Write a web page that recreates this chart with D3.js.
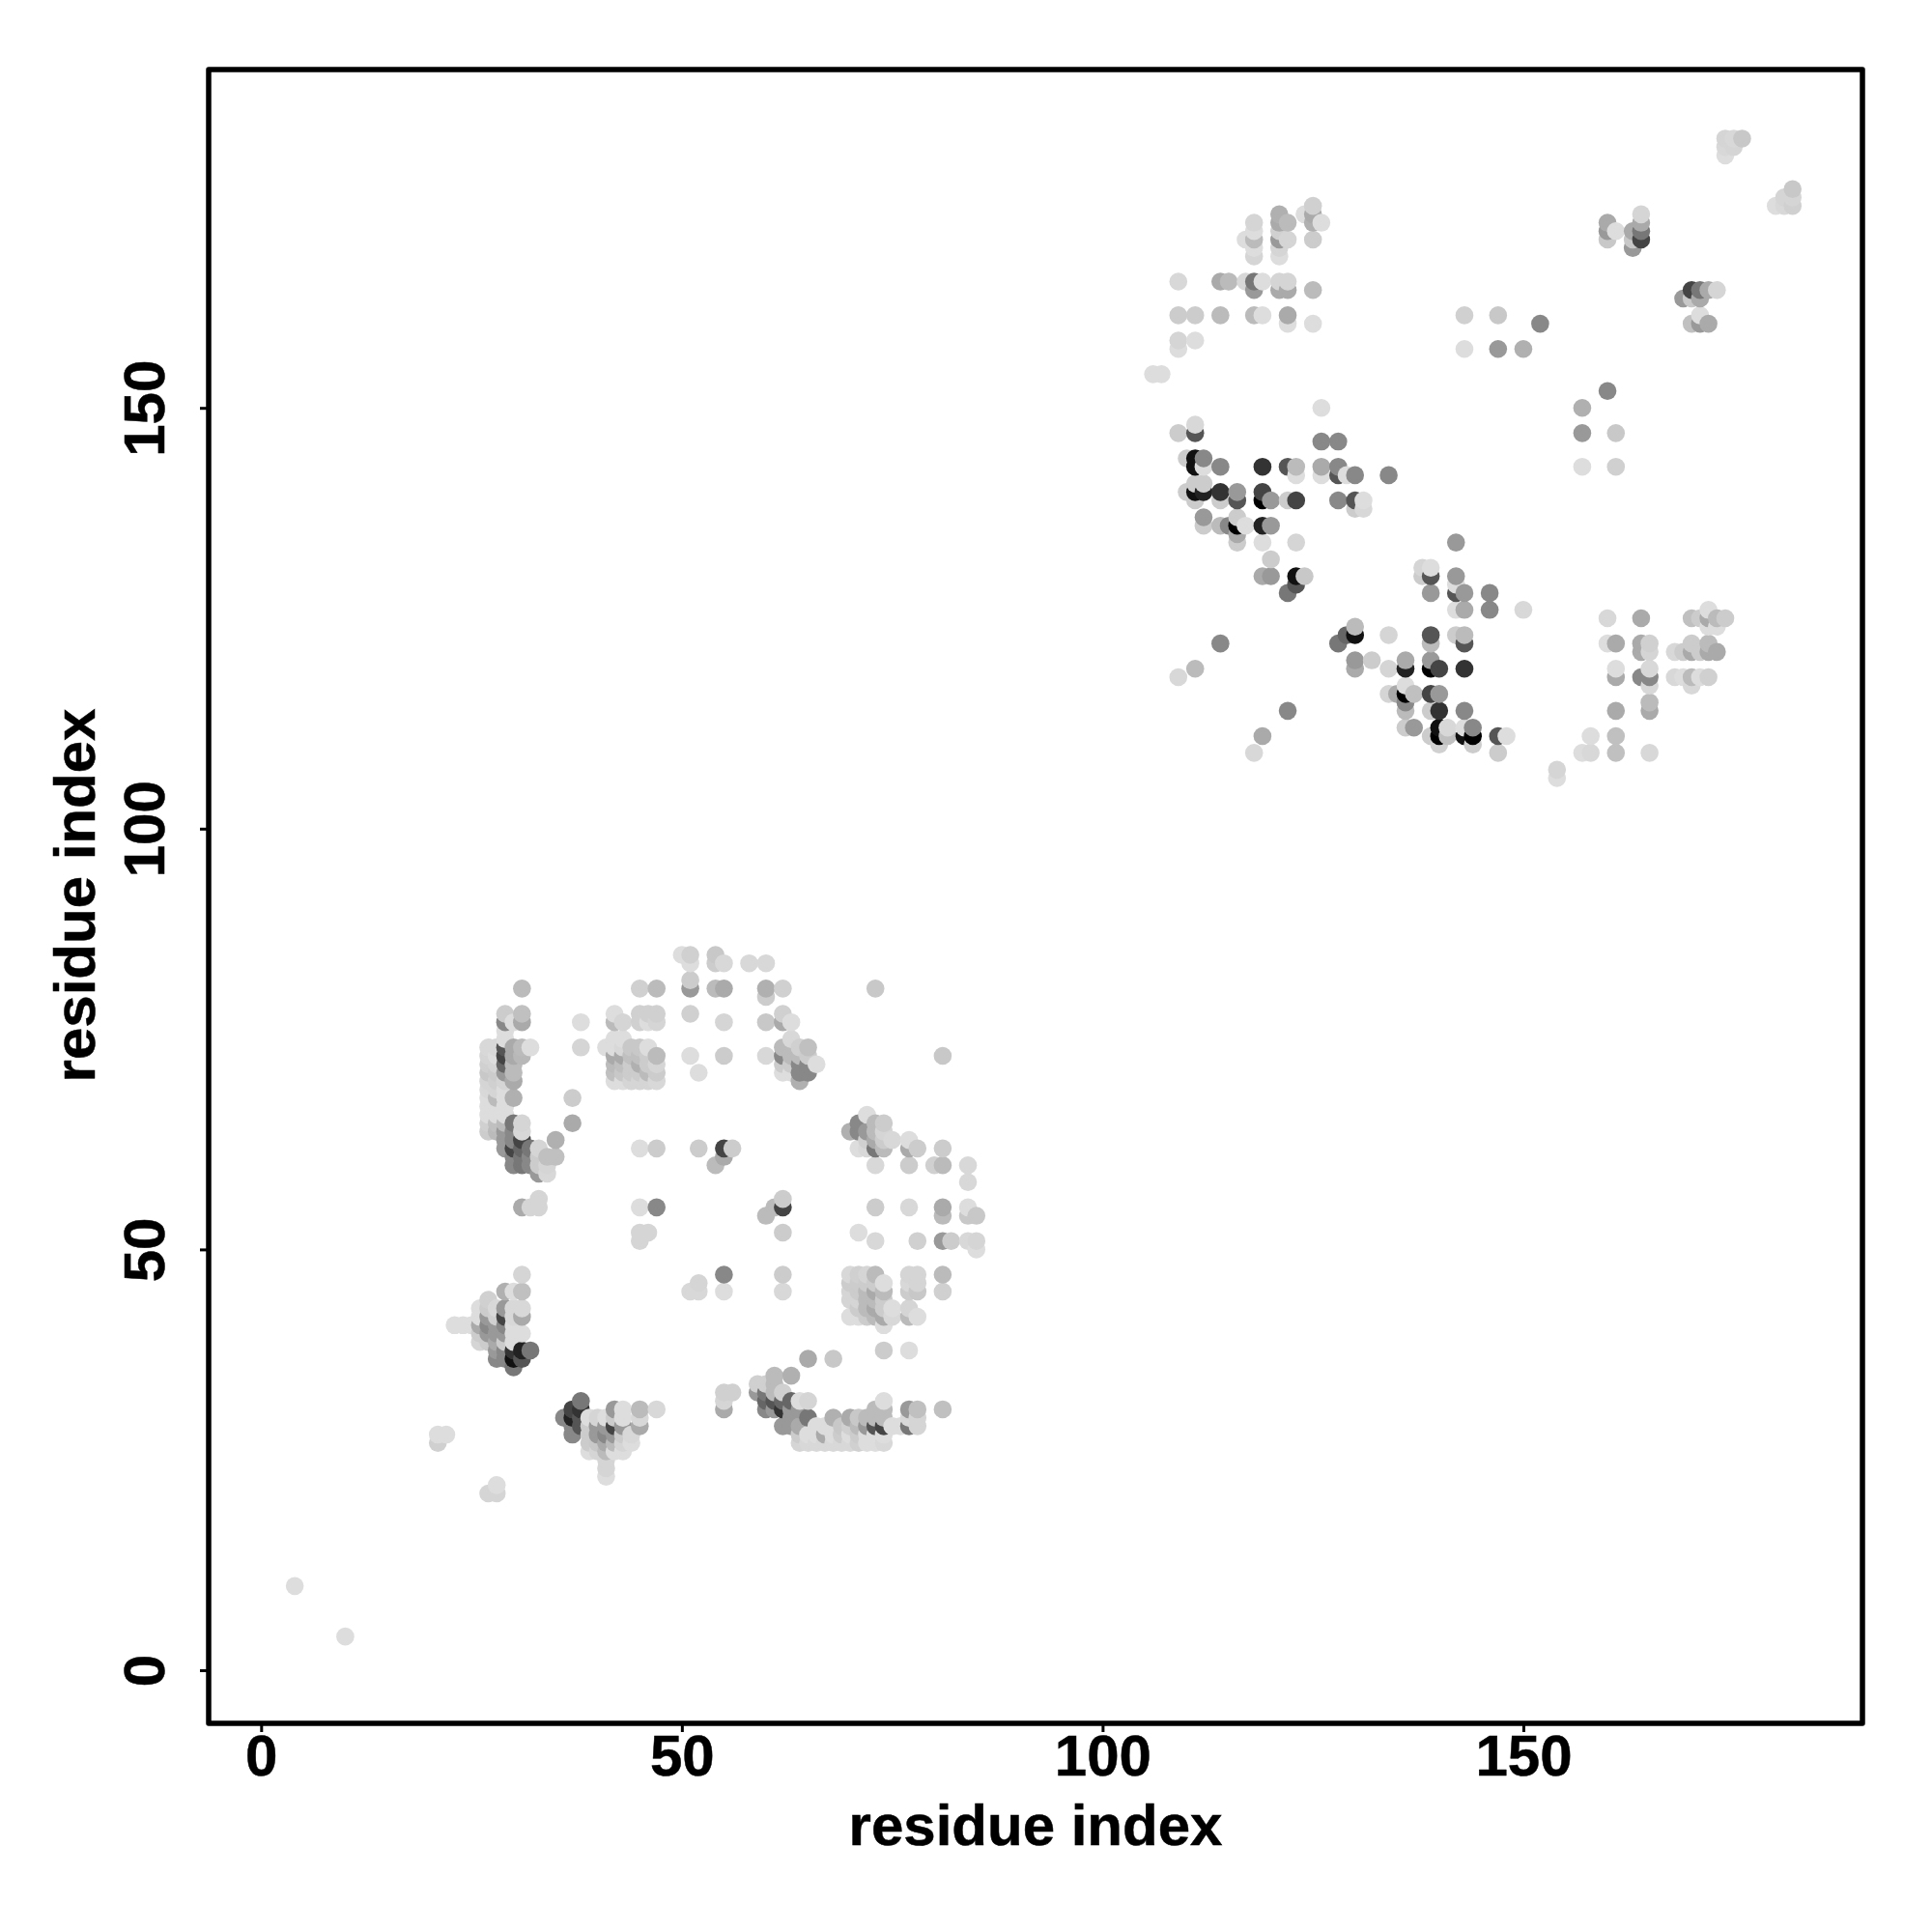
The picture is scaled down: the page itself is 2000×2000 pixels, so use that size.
<!DOCTYPE html>
<html><head><meta charset="utf-8">
<script src="https://cdn.jsdelivr.net/npm/d3@7"></script>
<style>html,body{margin:0;background:#fff}svg{display:block}text{font-family:"Liberation Sans",Arial,sans-serif;font-weight:700;fill:#000;stroke:#000;stroke-width:.5px}</style>
</head><body><div id="c"></div>
<script>
const tickLabels=[0,50,100,150];
const axisTitle="residue index";
// each contact: residue i, residue j, grey level (hex)
const isolated=[[4,10,"dd"],[10,4,"dd"],[21,28,"dd"],[22,28,"dd"],[21,27,"d0"],[28,22,"dd"],[27,21,"d5"],[28,21,"d5"]];
const helixA=[[31,81,"bb"],[29,78,"cc"],[31,78,"c0"],[29,77,"88"],[31,77,"aa"],[30,77,"dd"],[29,76,"dd"],[29,75,"dd"],
[27,74,"d8"],[28,74,"d8"],[29,74,"55"],[30,74,"aa"],[31,74,"bb"],[32,74,"dd"],
[27,73,"d5"],[28,73,"dd"],[29,73,"44"],[30,73,"aa"],[31,73,"b8"],
[27,72,"d0"],[28,72,"d5"],[29,72,"66"],[30,72,"bb"],
[27,71,"c8"],[28,71,"cc"],[29,71,"99"],[30,71,"bb"],
[27,70,"d5"],[28,70,"d0"],[29,70,"d5"],[30,70,"aa"],
[27,69,"d8"],[28,69,"d5"],[29,69,"dd"],
[27,68,"dd"],[28,68,"bb"],[29,68,"dd"],[30,68,"b0"],
[27,67,"dd"],[28,67,"dd"],[29,67,"dd"],
[27,66,"dd"],[28,66,"dd"],[29,66,"dd"],
[27,65,"d0"],[28,65,"c0"],[29,65,"bb"],[30,65,"77"],[31,65,"d5"],
[27,64,"cc"],[28,64,"bb"],[29,64,"99"],[30,64,"88"],[31,64,"d8"],
[29,63,"99"],[30,63,"88"],[31,63,"44"],[35,63,"b0"],
[29,62,"99"],[30,62,"44"],[31,62,"66"],[32,62,"77"],[33,62,"d5"],
[30,61,"88"],[31,61,"77"],[32,61,"88"],[33,61,"cc"],[34,61,"c0"],[35,61,"c0"],
[30,60,"88"],[31,60,"77"],[32,60,"88"],[33,60,"cc"],[34,60,"d5"],
[33,59,"99"],[34,59,"d8"],[37,68,"cc"],[37,65,"aa"],
[31,55,"aa"],[32,55,"d5"],[33,55,"d5"],[33,56,"d5"]];
const sheetTop=[[45,81,"d0"],[47,81,"bb"],[50,85,"dd"],[51,85,"d0"],[51,84,"dd"],[51,82,"cc"],[51,81,"99"],[54,85,"c8"],[54,84,"cc"],[54,81,"bb"],
[51,78,"d0"],[38,77,"dd"],[38,74,"d5"],[42,78,"dd"],[42,77,"bb"],[43,77,"d5"],[45,78,"d0"],[46,78,"d0"],[47,78,"d0"],[45,77,"d0"],[46,77,"dd"],[47,77,"d5"],
[41,74,"dd"],[42,75,"dd"],[43,75,"dd"],
[42,74,"dd"],[43,74,"d8"],[44,74,"c8"],[45,74,"c8"],[46,74,"dd"],
[42,73,"aa"],[43,73,"aa"],[44,73,"c0"],[45,73,"c0"],[46,73,"cc"],[47,73,"bb"],
[42,72,"bb"],[43,72,"c0"],[44,72,"cc"],[45,72,"b0"],[46,72,"cc"],[47,72,"d5"],
[42,71,"c0"],[43,71,"c8"],[44,71,"cc"],[45,71,"cc"],[46,71,"bb"],[47,71,"cc"],
[42,70,"dd"],[43,70,"dd"],[44,70,"d5"],[45,70,"d5"],[46,70,"d5"],[47,70,"d8"],
[51,73,"dd"],[52,71,"dd"],[45,62,"dd"],[47,62,"cc"],[52,62,"cc"],[45,55,"dd"],[47,55,"88"],
[55,84,"d8"],[58,84,"d8"],[60,84,"d8"],[55,81,"aa"],[60,81,"b0"],[60,80,"cc"],[62,81,"d0"],[73,81,"c8"],
[55,77,"d5"],[60,77,"c8"],[62,78,"d0"],[62,77,"aa"],[63,77,"dd"],[55,73,"cc"],[60,73,"d8"],[81,73,"c8"],
[63,75,"d8"],[62,74,"bb"],[64,74,"d0"],[65,74,"c0"],[62,73,"88"],[63,73,"bb"],[64,73,"bb"],[65,73,"cc"],
[62,72,"cc"],[63,72,"cc"],[64,72,"88"],[65,72,"88"],[66,72,"dd"],[62,71,"dd"],[63,71,"dd"],[64,71,"88"],[65,71,"88"],[64,70,"b0"]];
const sheetRight=[[70,64,"b0"],[71,65,"88"],[72,66,"dd"],[73,65,"bb"],[74,65,"cc"],[71,64,"88"],[72,64,"99"],[73,64,"bb"],[74,64,"d5"],[75,63,"d8"],
[71,62,"dd"],[72,63,"d0"],[73,63,"aa"],[74,63,"cc"],[72,62,"d8"],[73,62,"77"],[74,62,"bb"],[77,63,"dd"],[77,62,"aa"],[78,62,"cc"],[81,62,"cc"],
[73,60,"d8"],[77,60,"cc"],[80,60,"d0"],[81,60,"bb"],[84,60,"d8"],[84,58,"d8"],[55,62,"44"],[56,62,"cc"],[55,61,"aa"],[54,60,"bb"],
[62,56,"cc"],[62,55,"44"],[61,55,"bb"],[60,54,"bb"],[73,55,"cc"],[77,55,"d8"],[81,55,"aa"],[81,54,"bb"],[84,55,"dd"],[84,54,"c8"],[85,54,"c8"],
[62,52,"cc"],[71,52,"dd"],[73,51,"d8"],[78,51,"d0"],[81,51,"99"],[82,51,"cc"],[84,51,"d8"],[85,51,"d5"],[85,50,"dd"],
[55,47,"88"],[62,47,"cc"],[55,45,"dd"],[62,45,"d8"],[81,47,"bb"],[81,45,"d0"],
[70,47,"d8"],[71,47,"d0"],[72,47,"d5"],[73,47,"bb"],[70,46,"cc"],[71,46,"cc"],[72,46,"cc"],[73,46,"cc"],[74,46,"dd"],
[70,45,"d5"],[71,45,"cc"],[72,45,"bb"],[73,45,"aa"],[74,45,"bb"],[70,44,"d5"],[71,44,"d5"],[72,44,"bb"],[73,44,"bb"],[74,44,"cc"],
[71,43,"cc"],[72,43,"bb"],[73,43,"aa"],[74,43,"cc"],[75,43,"dd"],[70,42,"dd"],[71,42,"dd"],[72,42,"cc"],[73,42,"bb"],[74,42,"aa"],[75,42,"d8"],[74,41,"dd"],
[77,47,"d5"],[78,47,"d5"],[77,46,"d8"],[78,46,"d5"],[77,45,"cc"],[78,45,"c8"],[77,43,"d5"],[77,42,"bb"],[78,42,"dd"],[74,38,"cc"],[77,38,"dd"]];
const sheetBottom=[[65,37,"aa"],[68,37,"c8"],[63,35,"b0"],[61,35,"bb"],[59,34,"d0"],[60,34,"d0"],[61,34,"bb"],[62,33,"d0"],[55,33,"d0"],[56,33,"d0"],[55,32,"d5"],[55,31,"aa"],
[59,33,"99"],[60,33,"77"],[61,33,"bb"],[63,32,"66"],[64,32,"dd"],[65,32,"d5"],[60,32,"66"],[61,32,"55"],[62,32,"66"],
[60,31,"88"],[61,31,"99"],[62,31,"33"],[63,31,"99"],[64,31,"99"],[65,30,"77"],[62,29,"99"],[63,30,"99"],[63,29,"99"],[64,29,"aa"],
[64,27,"d5"],[65,27,"d8"],[66,27,"d8"],[67,27,"d8"],[68,27,"d8"],[69,27,"d8"],[70,27,"d8"],[71,27,"d0"],[72,27,"dd"],[73,27,"dd"],[74,27,"d8"],
[64,28,"cc"],[65,28,"dd"],[66,28,"dd"],[67,28,"aa"],[68,28,"dd"],[69,28,"cc"],[70,28,"dd"],[71,28,"cc"],[72,28,"dd"],[73,28,"dd"],[74,28,"dd"],
[66,29,"dd"],[67,29,"dd"],[69,29,"c8"],[70,29,"d0"],[71,29,"bb"],[72,29,"99"],[73,29,"55"],[74,29,"44"],[75,29,"dd"],[76,29,"dd"],[77,29,"77"],[78,29,"d5"],
[68,30,"b0"],[70,30,"aa"],[71,30,"c8"],[72,30,"bb"],[73,30,"bb"],[74,30,"bb"],[77,30,"d8"],[78,30,"d5"],
[73,31,"bb"],[74,31,"bb"],[77,31,"99"],[78,31,"c0"],[81,31,"c0"],[74,32,"dd"]];
const helixB=[[45,52,"d5"],[46,52,"d5"],[45,51,"d5"],[31,47,"d5"],[29,45,"b0"],[30,45,"dd"],[31,45,"c0"],[27,44,"d0"],
[26,43,"dd"],[27,43,"cc"],[28,43,"d8"],[29,43,"99"],[30,43,"d8"],[31,43,"d8"],
[26,42,"dd"],[27,42,"99"],[28,42,"d0"],[29,42,"44"],[30,42,"d8"],[31,42,"aa"],
[23,41,"dd"],[24,41,"dd"],[25,41,"dd"],[26,41,"aa"],[27,41,"88"],[28,41,"99"],[29,41,"88"],[30,41,"dd"],
[26,40,"cc"],[27,40,"99"],[28,40,"99"],[29,40,"99"],[30,40,"dd"],[31,40,"dd"],
[26,39,"d5"],[27,39,"cc"],[28,39,"aa"],[29,39,"cc"],[30,39,"dd"],
[28,38,"99"],[29,38,"88"],[30,38,"33"],[31,38,"22"],[32,38,"77"],
[28,37,"88"],[29,37,"88"],[30,37,"11"],[31,37,"55"],[30,36,"77"],
[52,46,"d5"],[51,45,"d8"],[52,45,"d8"],
[38,32,"77"],[37,31,"44"],[38,31,"33"],[36,30,"88"],[37,30,"22"],[38,30,"55"],[37,29,"88"],[38,29,"55"],[37,28,"88"],
[39,30,"dd"],[40,30,"d5"],[41,30,"dd"],[42,31,"99"],[43,31,"dd"],[45,31,"bb"],[47,31,"d8"],[42,30,"cc"],[43,30,"dd"],[45,30,"d8"],
[42,29,"44"],[39,29,"cc"],[40,29,"99"],[41,29,"99"],[43,29,"99"],[45,29,"aa"],
[39,28,"cc"],[40,28,"99"],[41,28,"88"],[42,28,"99"],[43,28,"cc"],[44,28,"d8"],
[39,27,"cc"],[40,27,"c8"],[41,27,"aa"],[42,27,"bb"],[43,27,"d5"],[44,27,"dd"],
[39,26,"dd"],[40,26,"d5"],[41,26,"bb"],[42,26,"dd"],[43,26,"dd"],[41,25,"d5"],[41,24,"d5"],[41,23,"dd"]];
const domainTop=[[125,174,"d0"],[124,173,"dd"],[125,173,"aa"],[125,172,"b0"],[126,172,"dd"],[125,170,"cc"],
[121,173,"b0"],[121,172,"aa"],[122,172,"bb"],[121,171,"d0"],[121,170,"99"],[122,170,"d5"],[121,169,"d5"],[121,168,"dd"],
[118,172,"d5"],[118,171,"dd"],[117,170,"dd"],[118,170,"bb"],[118,169,"dd"],[118,168,"d5"],
[109,165,"d8"],[114,165,"aa"],[115,165,"bb"],[117,165,"d8"],[118,165,"77"],[119,165,"dd"],[121,165,"d5"],[122,165,"d5"],[118,164,"99"],[121,164,"aa"],[122,164,"aa"],[125,164,"bb"],
[109,161,"cc"],[111,161,"cc"],[114,161,"bb"],[118,161,"bb"],[119,161,"dd"],[122,161,"aa"],[122,160,"dd"],[125,160,"dd"],
[109,158,"d5"],[111,158,"dd"],[109,157,"dd"],[106,154,"dd"],[107,154,"dd"]];
const domainMid=[[126,150,"dd"],[109,147,"cc"],[111,148,"d8"],[111,147,"55"],[126,146,"88"],[128,146,"88"],
[110,144,"cc"],[111,144,"11"],[112,144,"88"],[111,143,"11"],[112,143,"dd"],[114,143,"88"],[119,143,"33"],[122,143,"55"],[123,143,"bb"],[126,143,"aa"],[128,143,"88"],
[123,142,"dd"],[126,142,"dd"],[128,142,"55"],[129,142,"dd"],[130,142,"88"],[134,142,"88"],
[110,140,"cc"],[111,141,"cc"],[112,141,"cc"],[111,140,"11"],[112,140,"22"],[114,140,"33"],[116,140,"99"],[119,140,"44"],
[111,139,"cc"],[114,139,"cc"],[116,139,"55"],[119,139,"00"],[120,139,"99"],[122,139,"cc"],[123,139,"44"],[128,139,"88"],[130,139,"55"],[131,139,"dd"],[130,138,"cc"],[131,138,"d8"],
[112,137,"99"],[116,137,"cc"],[112,136,"cc"],[114,136,"bb"],[115,136,"88"],[116,136,"00"],[117,136,"dd"],[119,136,"22"],[120,136,"99"],
[116,135,"aa"],[116,134,"cc"],[119,134,"dd"],[123,134,"d5"],[120,132,"cc"],[119,130,"aa"],[120,130,"99"],[123,130,"11"],[124,130,"c8"],[123,129,"55"],[122,128,"77"],
[114,122,"88"],[109,118,"d8"],[111,119,"bb"],[122,114,"88"],[119,111,"aa"],[118,109,"d8"]];
const domainLow=[[142,134,"99"],[138,131,"d5"],[139,131,"dd"],[138,130,"cc"],[139,130,"55"],[142,130,"99"],[142,129,"dd"],[139,128,"99"],[142,128,"55"],[143,128,"99"],[146,128,"88"],
[142,126,"dd"],[143,126,"aa"],[146,126,"88"],[150,126,"d8"],
[130,124,"bb"],[130,123,"11"],[129,123,"66"],[128,122,"77"],[134,123,"d5"],[139,123,"55"],[139,122,"bb"],[142,123,"cc"],[143,123,"bb"],[143,122,"55"],
[130,120,"99"],[130,119,"aa"],[132,120,"cc"],[134,119,"d5"],[136,120,"aa"],[136,119,"22"],[139,120,"99"],[139,119,"00"],[140,119,"44"],[143,119,"33"],
[134,116,"d5"],[135,116,"aa"],[136,117,"dd"],[136,116,"00"],[137,116,"c0"],[139,116,"44"],[140,116,"99"],[136,115,"88"],[136,114,"bb"],[139,114,"cc"],[140,114,"33"],[143,114,"88"],
[136,112,"cc"],[137,112,"99"],[139,111,"cc"],[140,112,"11"],[140,111,"00"],[141,112,"d8"],[141,111,"c0"],[140,110,"d0"],[143,112,"dd"],[143,111,"11"],[144,112,"88"],[144,111,"00"],[144,110,"cc"],[147,111,"55"],[148,111,"dd"],[147,109,"cc"]];
const domainRight=[[160,125,"d8"],[164,125,"aa"],[170,125,"c0"],[172,126,"dd"],[171,125,"cc"],[172,125,"aa"],[173,125,"bb"],[174,125,"cc"],[172,124,"dd"],[173,124,"dd"],
[160,122,"dd"],[161,122,"aa"],[164,122,"aa"],[165,122,"d0"],[164,121,"aa"],[165,121,"d5"],[170,122,"cc"],[172,122,"bb"],
[168,121,"d8"],[169,121,"cc"],[170,121,"aa"],[171,121,"cc"],[172,121,"aa"],[173,121,"aa"],
[161,119,"dd"],[161,118,"aa"],[164,118,"88"],[165,119,"d8"],[165,118,"88"],[165,117,"d8"],
[168,118,"d8"],[169,118,"dd"],[170,118,"bb"],[171,118,"dd"],[172,118,"d0"],[170,117,"d8"],
[161,114,"aa"],[165,115,"bb"],[165,114,"aa"],[158,111,"dd"],[161,111,"c0"],[157,109,"dd"],[158,109,"d8"],[161,109,"c0"],[165,109,"d8"],[154,107,"d5"],[154,106,"dd"]];
const domainCorner=[[174,182,"d5"],[175,182,"d8"],[176,182,"c8"],[174,181,"d8"],[175,181,"d5"],[174,180,"dd"],
[182,176,"c8"],[181,175,"d5"],[182,175,"d5"],[180,174,"dd"],[181,174,"d8"],[182,174,"d0"],
[160,172,"aa"],[160,171,"99"],[161,171,"dd"],[160,170,"c8"],[164,173,"d5"],[164,172,"aa"],[164,171,"77"],[164,170,"44"],[163,171,"aa"],[163,170,"c8"],[163,169,"99"],
[170,164,"44"],[171,164,"77"],[172,164,"aa"],[173,164,"d5"],[169,163,"99"],[170,163,"c8"],[171,163,"aa"],
[170,160,"c0"],[171,161,"dd"],[171,160,"99"],[172,160,"aa"],
[143,161,"d0"],[147,161,"c8"],[152,160,"88"],[143,157,"dd"],[147,157,"99"],[150,157,"b0"],
[160,152,"88"],[157,150,"b0"],[157,147,"99"],[161,147,"c8"],[157,143,"dd"],[161,143,"d0"]];

const contacts=[...isolated,...helixA,...sheetTop,...sheetRight,...sheetBottom,...helixB,...domainTop,...domainMid,...domainLow,...domainRight,...domainCorner]
  .map(([i,j,g])=>({i,j,g})).sort((a,b)=>d3.ascending(a.i,b.i)||d3.ascending(a.j,b.j));

const W=2000,H=2000,L=216,R=1928,T=72,B=1784;
const svg=d3.select("#c").append("svg").attr("width",W).attr("height",H);
svg.append("rect").attr("width",W).attr("height",H).attr("fill","#fff");
const x=d3.scaleLinear().domain([-6.234,190.3]).range([L,R]);
const y=d3.scaleLinear().domain([-6.314,190.2]).range([B,T]);

svg.append("g").selectAll("circle").data(contacts).join("circle")
  .attr("cx",d=>x(d.i)).attr("cy",d=>y(d.j)).attr("r",9.3)
  .attr("fill",d=>"#"+d.g+d.g+d.g);

function styleAxis(g){
  g.select(".domain").remove();
  g.selectAll(".tick line").attr("stroke","#000").attr("stroke-width",3);
  g.selectAll("text").attr("font-size",60).attr("fill","#000");
}
const gx=svg.append("g").attr("transform",`translate(0,${B})`)
  .call(d3.axisBottom(x).tickValues(tickLabels).tickSize(9).tickPadding(0).tickFormat(d3.format("d"))).call(styleAxis);
gx.selectAll("text").attr("dy",null).attr("y",54);
const gy=svg.append("g").attr("transform",`translate(${L},0)`)
  .call(d3.axisLeft(y).tickValues(tickLabels).tickSize(9).tickPadding(0).tickFormat(d3.format("d"))).call(styleAxis);
gy.selectAll("text").attr("x",null).attr("dy",null).attr("text-anchor","middle")
  .attr("transform","translate(-46,0) rotate(-90)");

svg.append("rect").attr("x",L).attr("y",T).attr("width",R-L).attr("height",B-T)
  .attr("fill","none").attr("stroke","#000").attr("stroke-width",5.5).attr("stroke-linejoin","round");
svg.append("text").attr("x",1072).attr("y",1910).attr("text-anchor","middle").attr("font-size",60).text(axisTitle);
svg.append("text").attr("transform","translate(98,927) rotate(-90)").attr("text-anchor","middle").attr("font-size",60).text(axisTitle);
</script></body></html>
